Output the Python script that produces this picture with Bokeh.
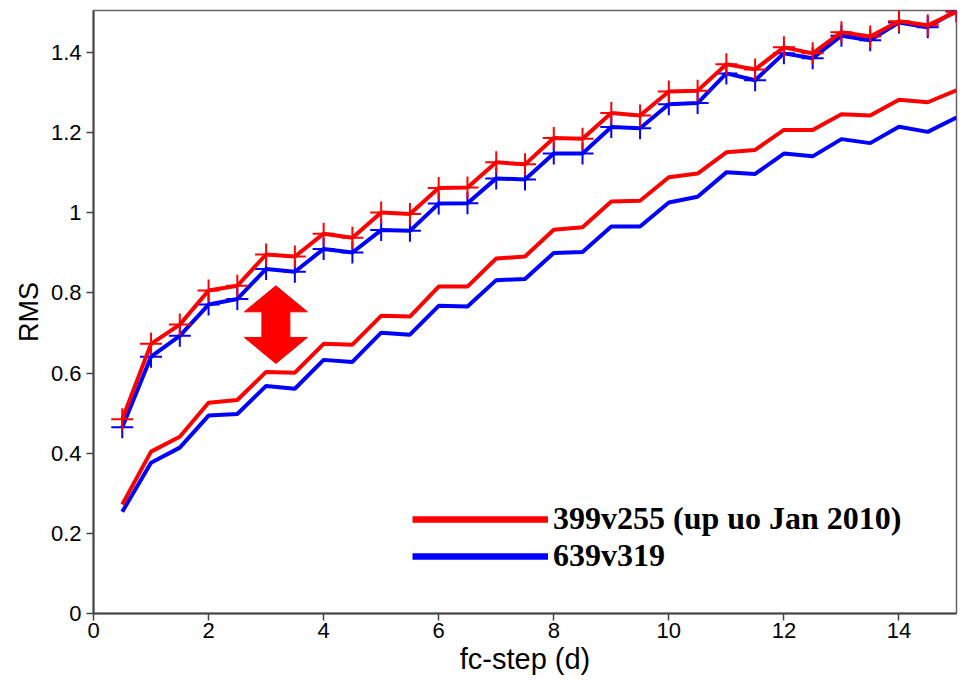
from bokeh.plotting import figure
from bokeh.models import Range1d, FixedTicker, Legend, LegendItem, ColumnDataSource
from bokeh.embed import file_html
from bokeh.resources import INLINE

# ---- data ----
fc_step = [0.5, 1.0, 1.5, 2.0, 2.5, 3.0, 3.5, 4.0, 4.5, 5.0,
           5.5, 6.0, 6.5, 7.0, 7.5, 8.0, 8.5, 9.0, 9.5, 10.0,
           10.5, 11.0, 11.5, 12.0, 12.5, 13.0, 13.5, 14.0, 14.5, 15.0]

upper_red = [0.485, 0.673, 0.721, 0.806, 0.818, 0.896, 0.891, 0.948, 0.938, 1.001,
             0.997, 1.062, 1.063, 1.126, 1.121, 1.187, 1.185, 1.249, 1.243, 1.303,
             1.305, 1.371, 1.358, 1.413, 1.398, 1.451, 1.440, 1.478, 1.468, 1.502]
upper_blue = [0.465, 0.641, 0.693, 0.771, 0.785, 0.860, 0.853, 0.910, 0.901, 0.957,
              0.955, 1.023, 1.024, 1.086, 1.083, 1.148, 1.148, 1.214, 1.211, 1.271,
              1.274, 1.348, 1.331, 1.398, 1.386, 1.442, 1.431, 1.475, 1.463, 1.505]
lower_red = [0.272, 0.404, 0.441, 0.526, 0.533, 0.603, 0.601, 0.673, 0.671, 0.743,
             0.741, 0.816, 0.816, 0.886, 0.891, 0.958, 0.964, 1.028, 1.030, 1.089,
             1.098, 1.151, 1.157, 1.207, 1.207, 1.246, 1.243, 1.282, 1.276, 1.306]
lower_blue = [0.254, 0.376, 0.414, 0.494, 0.498, 0.568, 0.561, 0.633, 0.628, 0.701,
              0.696, 0.768, 0.766, 0.832, 0.835, 0.900, 0.902, 0.966, 0.966, 1.026,
              1.040, 1.101, 1.097, 1.148, 1.141, 1.184, 1.174, 1.215, 1.202, 1.238]

legend_labels = ["399v255 (up uo Jan 2010)", "639v319"]

x_ticks = [0, 2, 4, 6, 8, 10, 12, 14]
y_ticks = [0, 0.2, 0.4, 0.6, 0.8, 1.0, 1.2, 1.4]
y_tick_labels = ["0", "0.2", "0.4", "0.6", "0.8", "1", "1.2", "1.4"]

# double-headed arrow annotation (data units)
arrow_x = 3.17
arrow_top = 0.818
arrow_bottom = 0.624

RED = "#ff0000"
BLUE = "#0000ff"

p = figure(width=967, height=682, output_backend="svg", toolbar_location=None,
           x_range=Range1d(0, 15), y_range=Range1d(0, 1.505),
           min_border_left=93, min_border_right=11, min_border_top=10, min_border_bottom=69)
p.xgrid.visible = False
p.ygrid.visible = False
p.outline_line_color = "#666666"
p.outline_line_width = 1.5
p.background_fill_color = "white"
p.border_fill_color = "white"

for ax in (p.xaxis[0], p.yaxis[0]):
    ax.axis_line_color = "#444444"
    ax.axis_line_width = 2
    ax.major_tick_line_color = "#444444"
    ax.major_tick_line_width = 1.5
    ax.major_tick_in = 0
    ax.major_tick_out = 7
    ax.minor_tick_line_color = None
    ax.major_label_text_font = "Liberation Sans"
    ax.major_label_text_font_size = "22px"
    ax.major_label_text_color = "black"
    ax.axis_label_text_font = "Liberation Sans"
    ax.axis_label_text_font_style = "normal"
    ax.axis_label_text_color = "black"

p.xaxis.ticker = FixedTicker(ticks=x_ticks)
p.yaxis.ticker = FixedTicker(ticks=y_ticks)
p.yaxis.major_label_overrides = {t: l for t, l in zip(y_ticks, y_tick_labels)}
p.xaxis.axis_label = "fc-step (d)"
p.yaxis.axis_label = "RMS"
p.xaxis.axis_label_text_font_size = "29px"
p.yaxis.axis_label_text_font_size = "27px"
p.xaxis.major_label_standoff = 2
p.yaxis.major_label_standoff = 5
p.xaxis.axis_label_standoff = 2
p.yaxis.axis_label_standoff = 4

# lower lines
p.line(fc_step, lower_blue, line_color=BLUE, line_width=4)
p.line(fc_step, lower_red, line_color=RED, line_width=4)
# upper lines with + markers
p.line(fc_step, upper_blue, line_color=BLUE, line_width=4)
p.scatter(fc_step, upper_blue, marker="cross", size=22, line_color=BLUE, line_width=2)
p.line(fc_step, upper_red, line_color=RED, line_width=4)
p.scatter(fc_step, upper_red, marker="cross", size=22, line_color=RED, line_width=2)

# arrow polygon
hl = 0.065   # head length (data y)
hh = 0.548   # head half-width (data x)
sh = 0.243   # shaft half-width (data x)
axs = [arrow_x, arrow_x + hh, arrow_x + sh, arrow_x + sh, arrow_x + hh,
       arrow_x, arrow_x - hh, arrow_x - sh, arrow_x - sh, arrow_x - hh]
ays = [arrow_top, arrow_top - hl, arrow_top - hl, arrow_bottom + hl, arrow_bottom + hl,
       arrow_bottom, arrow_bottom + hl, arrow_bottom + hl, arrow_top - hl, arrow_top - hl]
p.patch(axs, ays, fill_color=RED, line_color=RED, line_width=1)

# legend proxies (one NaN point each, so nothing is drawn in the plot area)
nan = float("nan")
r_red = p.line("x", "y", source=ColumnDataSource(dict(x=[nan], y=[nan])),
               line_color=RED, line_width=6.5)
r_blue = p.line("x", "y", source=ColumnDataSource(dict(x=[nan], y=[nan])),
                line_color=BLUE, line_width=6.5)
legend = Legend(items=[LegendItem(label=legend_labels[0], renderers=[r_red]),
                       LegendItem(label=legend_labels[1], renderers=[r_blue])],
                location=(319, 39), glyph_width=136, glyph_height=36, label_height=36,
                spacing=0, padding=0, margin=0, label_standoff=5,
                label_text_font="Liberation Serif", label_text_font_style="bold",
                label_text_font_size="32px", label_text_color="black",
                border_line_color=None, background_fill_alpha=0)
p.add_layout(legend, "center")

open("out.html", "w").write(file_html(p, INLINE))
